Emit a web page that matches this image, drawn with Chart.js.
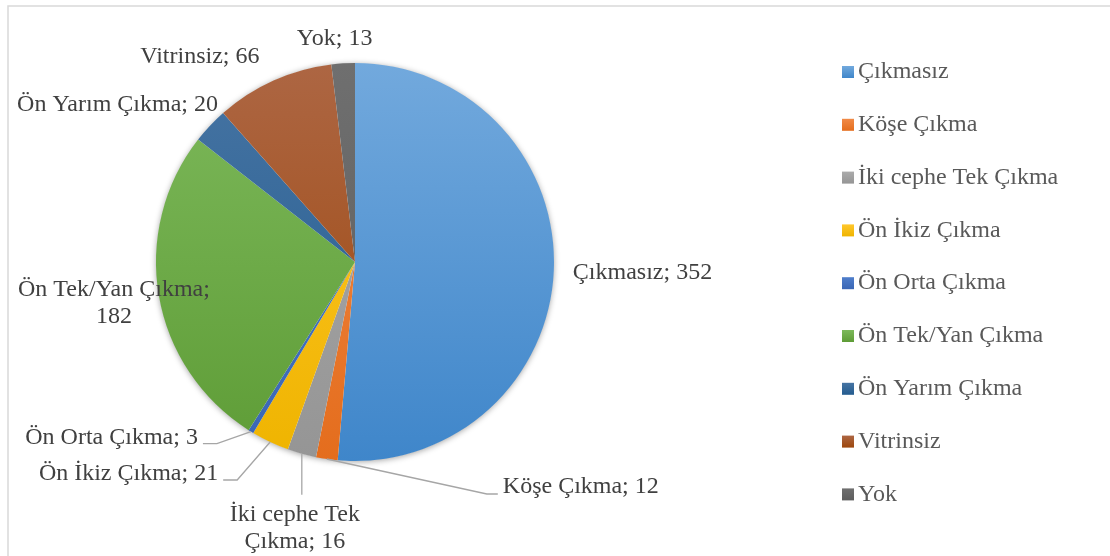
<!DOCTYPE html>
<html>
<head>
<meta charset="utf-8">
<script src="https://cdn.jsdelivr.net/npm/chart.js@4.4.0/dist/chart.umd.min.js"></script>
<style>
  html, body { margin: 0; padding: 0; background: #ffffff; }
  #wrap { width: 1110px; height: 556px; position: relative; }
</style>
</head>
<body>
<div id="wrap"><canvas id="c" width="1110" height="556"></canvas></div>
<script>
// ---- data ----
const categories = ["Çıkmasız", "Köşe Çıkma", "İki cephe Tek Çıkma", "Ön İkiz Çıkma", "Ön Orta Çıkma", "Ön Tek/Yan Çıkma", "Ön Yarım Çıkma", "Vitrinsiz", "Yok"];
const values = [352, 12, 16, 21, 3, 182, 20, 66, 13];

// ---- styles ----
const colorsTop = ["#72a9dd", "#f18a47", "#ababab", "#ffc72c", "#4f7ecb", "#7db95b", "#4674a3", "#ad6643", "#6f6f6f"];
const colorsBottom = ["#3f86ca", "#e46d1d", "#959595", "#efb400", "#3a66b5", "#5e9c36", "#245c8f", "#9d470c", "#5d5d5d"];
const FONT = '"Liberation Serif", "Times New Roman", serif';

// label layout: offsets (px) from the slice's outer edge at its mid-angle
const labelLayout = [
  { dx: 19, dy: 2, align: "left" },
  { dx: 176, dy: 28, align: "left", leader: [[160, 35], [171, 35]] },
  { dx: -7, dy: 61, align: "center", split: 3, leader: [[0, 41]] },
  { dx: -52, dy: 32, align: "right", leader: [[-33, 38], [-47, 38]] },
  { dx: -53, dy: 6, align: "right", leader: [[-34, 12], [-48, 12]] },
  { dx: -45, dy: -6, align: "center", split: 3 },
  { dx: 8, dy: -21, align: "right" },
  { dx: -14, dy: -24, align: "right" },
  { dx: -8.5, dy: -25, align: "center" }
];

function makeGrad(ctx, area, i) {
  const cy = (area.top + area.bottom) / 2;
  const r = Math.min(area.width, area.height) / 2;
  const g = ctx.createLinearGradient(0, cy - r, 0, cy + r);
  g.addColorStop(0, colorsTop[i]);
  g.addColorStop(1, colorsBottom[i]);
  return g;
}

const framePlugin = {
  id: "frame",
  beforeDraw(chart) {
    const ctx = chart.ctx;
    ctx.save();
    ctx.fillStyle = "#ffffff";
    ctx.fillRect(0, 0, chart.width, chart.height);
    ctx.strokeStyle = "#d9d9d9";
    ctx.lineWidth = 1.5;
    ctx.strokeRect(8, 6, chart.width + 20, chart.height + 20);
    ctx.restore();
  }
};

const shadowPlugin = {
  id: "pieShadow",
  beforeDatasetsDraw(chart) {
    const arc = chart.getDatasetMeta(0).data[0];
    if (!arc) return;
    const p = arc.getProps(["x", "y", "outerRadius"], true);
    const ctx = chart.ctx;
    ctx.save();
    ctx.shadowColor = "rgba(0,0,0,0.4)";
    ctx.shadowBlur = 6;
    ctx.shadowOffsetY = 1;
    ctx.fillStyle = "#ffffff";
    ctx.beginPath();
    ctx.arc(p.x, p.y, p.outerRadius - 0.5, 0, Math.PI * 2);
    ctx.fill();
    ctx.restore();
  }
};

const labelPlugin = {
  id: "sliceLabels",
  afterDatasetsDraw(chart) {
    const ctx = chart.ctx;
    const meta = chart.getDatasetMeta(0);
    ctx.save();
    ctx.font = "24px " + FONT;
    ctx.textBaseline = "middle";
    meta.data.forEach((arc, i) => {
      const p = arc.getProps(["x", "y", "startAngle", "endAngle", "outerRadius"], true);
      const mid = (p.startAngle + p.endAngle) / 2;
      const ex = p.x + Math.cos(mid) * p.outerRadius;
      const ey = p.y + Math.sin(mid) * p.outerRadius;
      const L = labelLayout[i];
      if (L.leader) {
        ctx.strokeStyle = "#a6a6a6";
        ctx.lineWidth = 1.3;
        ctx.beginPath();
        ctx.moveTo(ex, ey);
        L.leader.forEach(pt => ctx.lineTo(ex + pt[0], ey + pt[1]));
        ctx.stroke();
      }
      const full = categories[i] + "; " + values[i];
      let lines = [full];
      if (L.split) {
        const words = full.split(" ");
        lines = [words.slice(0, L.split).join(" "), words.slice(L.split).join(" ")];
      }
      ctx.fillStyle = "#404040";
      ctx.textAlign = L.align;
      lines.forEach((t, k) => ctx.fillText(t, ex + L.dx, ey + L.dy + k * 27));
    });
    ctx.restore();
  }
};

const legendPlugin = {
  id: "customLegend",
  afterDraw(chart) {
    const ctx = chart.ctx;
    ctx.save();
    ctx.font = "24px " + FONT;
    ctx.textBaseline = "middle";
    ctx.textAlign = "left";
    const x0 = 842, y0 = 72, step = 52.8, box = 12;
    categories.forEach((c, i) => {
      const y = y0 + i * step;
      const g = ctx.createLinearGradient(0, y - box / 2, 0, y + box / 2);
      g.addColorStop(0, colorsTop[i]);
      g.addColorStop(1, colorsBottom[i]);
      ctx.fillStyle = g;
      ctx.fillRect(x0, y - box / 2, box, box);
      ctx.fillStyle = "#595959";
      ctx.fillText(c, x0 + 16, y);
    });
    ctx.restore();
  }
};

new Chart(document.getElementById("c"), {
  type: "pie",
  data: {
    labels: categories,
    datasets: [{
      data: values,
      backgroundColor: (ctx) => {
        const area = ctx.chart.chartArea;
        if (!area) return colorsBottom[ctx.dataIndex];
        return makeGrad(ctx.chart.ctx, area, ctx.dataIndex);
      },
      borderWidth: 0,
      hoverOffset: 0
    }]
  },
  options: {
    responsive: false,
    animation: false,
    layout: { padding: { left: 156, right: 556, top: 63, bottom: 95 } },
    plugins: { legend: { display: false }, tooltip: { enabled: false } },
    events: []
  },
  plugins: [framePlugin, shadowPlugin, labelPlugin, legendPlugin]
});
</script>
</body>
</html>
